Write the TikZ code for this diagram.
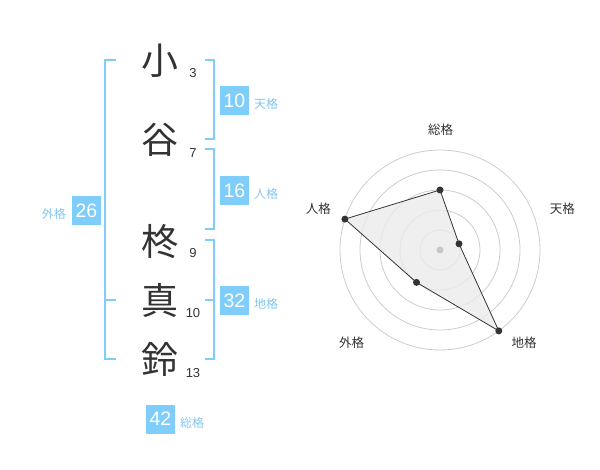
\documentclass[tikz,border=0pt]{standalone}
\usepackage{fontspec}
\setmainfont{Liberation Sans}
\newfontfamily\jp{Noto Sans CJK JP}
\definecolor{blu}{HTML}{7FCDFB}
\definecolor{lbl}{HTML}{82C6F0}
\definecolor{ink}{HTML}{333333}
\begin{document}
\begin{tikzpicture}[x=1pt,y=-1pt,
  kanji/.style={font=\jp\fontsize{37}{37}\selectfont, text=ink, inner sep=0},
  strk/.style={font=\fontsize{13}{13}\selectfont, text=ink, inner sep=0},
  valbox/.style={fill=blu, text=white, minimum size=29pt, inner sep=0, font=\fontsize{19.5}{19.5}\selectfont},
  lab/.style={text=lbl, font=\jp\fontsize{12}{12}\selectfont, inner sep=0},
  brk/.style={draw=blu, line width=1.7pt},
  ring/.style={draw=black!20, line width=0.8pt},
  rlab/.style={font=\jp\fontsize{12.5}{12.5}\selectfont, text=ink, inner sep=0},
  dot/.style={circle, fill=ink, inner sep=0, minimum size=7pt}]
\useasboundingbox (0,0) rectangle (600,470);
% name characters
\node[kanji] (k1) at (160,61) {小};
\node[kanji] (k2) at (160,140) {谷};
\node[kanji] (k3) at (160,242) {柊};
\node[kanji] (k4) at (160,300) {真};
\node[kanji] (k5) at (160,359) {鈴};
\node[strk] (n1) at (193,73) {3};
\node[strk] (n2) at (193,153) {7};
\node[strk] (n3) at (193,253) {9};
\node[strk] (n4) at (193,313) {10};
\node[strk] (n5) at (193,373) {13};
% brackets
\draw[brk] (116,60) -- (105,60) -- (105,359.3) -- (116,359.3);
\draw[brk] (105,300) -- (116,300);
\draw[brk] (205,60) -- (214.3,60) -- (214.3,139.3) -- (205,139.3);
\draw[brk] (205,149.3) -- (214.3,149.3) -- (214.3,229.3) -- (205,229.3);
\draw[brk] (205,240) -- (214.3,240) -- (214.3,359.3) -- (205,359.3);
\draw[brk] (205,300) -- (214.3,300);
% values
\node[valbox] (b1) at (234.5,100.5) {10};
\node[lab, anchor=west] (l1) at (254,104) {天格};
\node[valbox] (b2) at (234.5,190.5) {16};
\node[lab, anchor=west] (l2) at (254,194) {人格};
\node[valbox] (b3) at (234.5,300.5) {32};
\node[lab, anchor=west] (l3) at (254,304) {地格};
\node[valbox] (b4) at (86.5,210.5) {26};
\node[lab, anchor=east] (l4) at (66,214) {外格};
\node[valbox] (b5) at (160.5,419) {42};
\node[lab, anchor=west] (l5) at (180,423) {総格};
% radar
\coordinate (c) at (440,250);
\foreach \r in {20,40,60,80,100} \draw[ring] (c) circle[radius=\r];
\coordinate (p1) at (440,190);
\coordinate (p2) at (459.0,243.8);
\coordinate (p3) at (498.8,330.9);
\coordinate (p4) at (416.5,282.4);
\coordinate (p5) at (344.9,219.1);
\fill[black!8, opacity=0.8] (p1) -- (p2) -- (p3) -- (p4) -- (p5) -- cycle;
\draw[ink, line width=0.8pt] (p1) -- (p2) -- (p3) -- (p4) -- (p5) -- cycle;
\fill[black!22] (c) circle[radius=3.5];
\foreach \p in {p1,p2,p3,p4,p5} \node[dot] at (\p) {};
\node[rlab] (r1) at (440.7,130) {総格};
\node[rlab] (r2) at (562.3,208.3) {天格};
\node[rlab] (r3) at (524,342.3) {地格};
\node[rlab] (r4) at (351.7,342.3) {外格};
\node[rlab] (r5) at (318.3,208.7) {人格};
\end{tikzpicture}
\end{document}
